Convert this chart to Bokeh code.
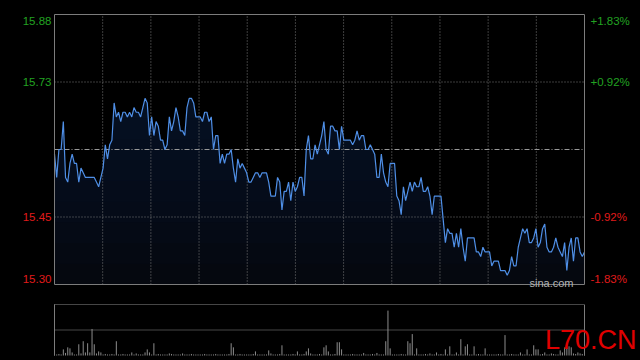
import numpy as np
from bokeh.plotting import figure
from bokeh.models import Range1d, Label
from bokeh.embed import file_html
from bokeh.resources import INLINE

# ---------------- data ----------------
prev_close = 15.59
price_low, price_high = 15.30, 15.88

price = [
    15.58, 15.53, 15.59, 15.59, 15.65, 15.53, 15.52, 15.56, 15.58, 15.56,
    15.56, 15.52, 15.55, 15.54, 15.53, 15.53, 15.53, 15.53, 15.53, 15.52,
    15.51, 15.53, 15.55, 15.60, 15.57, 15.60, 15.61, 15.69, 15.66, 15.67,
    15.65, 15.67, 15.67, 15.66, 15.67, 15.66, 15.68, 15.67, 15.67, 15.66,
    15.68, 15.70, 15.69, 15.62, 15.66, 15.62, 15.65, 15.64, 15.61, 15.61,
    15.59, 15.60, 15.66, 15.63, 15.65, 15.68, 15.66, 15.63, 15.63, 15.62,
    15.68, 15.70, 15.70, 15.69, 15.66, 15.66, 15.66, 15.65, 15.67, 15.67,
    15.65, 15.66, 15.59, 15.62, 15.62, 15.56, 15.58, 15.56, 15.58, 15.58,
    15.59, 15.55, 15.52, 15.57, 15.55, 15.56, 15.55, 15.54, 15.52, 15.52,
    15.53, 15.54, 15.54, 15.53, 15.54, 15.54, 15.54, 15.52, 15.49, 15.49,
    15.49, 15.53, 15.52, 15.46, 15.50, 15.50, 15.52, 15.48, 15.52, 15.50,
    15.51, 15.53, 15.53, 15.49, 15.59, 15.62, 15.57, 15.57, 15.60, 15.58,
    15.60, 15.62, 15.65, 15.59, 15.58, 15.64, 15.64, 15.63, 15.63, 15.59,
    15.64, 15.61, 15.61, 15.61, 15.61, 15.60, 15.61, 15.63, 15.61, 15.62,
    15.62, 15.59, 15.59, 15.60, 15.59, 15.58, 15.53, 15.53, 15.58, 15.54,
    15.52, 15.51, 15.56, 15.56, 15.56, 15.49, 15.48, 15.45, 15.51, 15.48,
    15.50, 15.52, 15.50, 15.52, 15.51, 15.51, 15.53, 15.50, 15.50, 15.51,
    15.49, 15.45, 15.49, 15.49, 15.49, 15.49, 15.44, 15.39, 15.42, 15.41,
    15.41, 15.38, 15.41, 15.38, 15.42, 15.38, 15.35, 15.40, 15.40, 15.40,
    15.40, 15.37, 15.37, 15.36, 15.38, 15.37, 15.37, 15.37, 15.34, 15.35,
    15.35, 15.35, 15.33, 15.33, 15.33, 15.32, 15.33, 15.36, 15.34, 15.34,
    15.38, 15.40, 15.42, 15.41, 15.42, 15.39, 15.39, 15.40, 15.42, 15.38,
    15.39, 15.42, 15.43, 15.38, 15.37, 15.37, 15.38, 15.40, 15.38, 15.37,
    15.36, 15.39, 15.33, 15.38, 15.40, 15.35, 15.40, 15.40, 15.37, 15.36,
    15.37,
]

volume = [
    300, 100, 150, 100, 600, 250, 800, 700, 300, 100,
    100, 1100, 200, 1400, 300, 1200, 300, 2600, 1100, 200,
    400, 300, 100, 150, 100, 100, 150, 100, 1400, 100,
    100, 150, 100, 100, 100, 300, 100, 200, 100, 100,
    100, 300, 600, 300, 100, 1200, 100, 150, 100, 100,
    100, 100, 200, 150, 100, 100, 100, 100, 200, 100,
    100, 100, 150, 100, 100, 100, 100, 100, 150, 100,
    100, 100, 100, 150, 100, 100, 100, 100, 100, 150,
    1200, 800, 100, 100, 150, 100, 100, 100, 100, 100,
    150, 400, 100, 100, 100, 100, 100, 500, 200, 100,
    100, 100, 150, 1000, 100, 100, 100, 100, 150, 100,
    400, 100, 100, 150, 400, 700, 200, 100, 100, 100,
    150, 100, 800, 1000, 400, 100, 100, 150, 1300, 1300,
    600, 100, 100, 100, 100, 150, 100, 100, 100, 100,
    250, 100, 100, 100, 150, 100, 250, 100, 100, 100,
    1400, 4400, 700, 100, 100, 100, 100, 150, 100, 100,
    1400, 1200, 2100, 100, 700, 100, 100, 100, 150, 100,
    200, 100, 100, 300, 100, 150, 100, 600, 100, 900,
    100, 100, 300, 100, 1600, 100, 900, 1100, 100, 100,
    900, 100, 150, 100, 100, 700, 100, 100, 100, 100,
    100, 150, 100, 100, 2000, 100, 100, 150, 100, 100,
    100, 300, 100, 100, 600, 100, 100, 1000, 600, 600,
    100, 150, 300, 100, 100, 200, 150, 100, 100, 500,
    300, 800, 700, 900, 800, 200, 150, 300, 200, 150,
    200,
]
volume_max = 5000

left_labels = ["15.88", "15.73", "15.45", "15.30"]
right_labels = ["+1.83%", "+0.92%", "-0.92%", "-1.83%"]
label_levels_idx = [4, 3, 1, 0]   # which horizontal grid level each label belongs to
n_vertical_div = 11

# ---------------- layout (pixels of the 640x360 canvas) ----------------
W, H = 640, 360
PX_L, PX_R = 54, 584          # panel left / right
PY_T, PY_B = 14, 284          # price panel top / bottom
VY_T, VY_B = 304, 355         # volume panel top / bottom

FONT = "Liberation Sans"
GREEN = "#22a322"
RED = "#e01b1b"
LINE_BLUE = "#4f8fe6"
GRID = "#7a7a7a"
BORDER = "#7c7c7c"

minutes = np.arange(len(price))
p_arr = np.array(price)
x_end = len(price) - 1
levels = [price_low + (price_high - price_low) * k / 4 for k in range(5)]

mpp = x_end / (PX_R - PX_L)
ppp = (price_high - price_low) / (PY_B - PY_T)
vpp = volume_max / (VY_B - VY_T)

p = figure(width=W, height=H, output_backend="svg", toolbar_location=None,
           x_axis_type=None, y_axis_type=None,
           x_range=Range1d(-PX_L * mpp, x_end + (W - PX_R) * mpp),
           y_range=Range1d(price_low - (H - PY_B) * ppp, price_high + PY_T * ppp),
           min_border=0, min_border_left=0, min_border_right=0,
           min_border_top=0, min_border_bottom=0,
           background_fill_color="#000000", border_fill_color="#000000",
           outline_line_color=None)
p.extra_y_ranges = {"vol": Range1d(-(H - VY_B) * vpp, volume_max + VY_T * vpp)}
p.grid.visible = False

# area fill with a vertical gradient approximation
p.varea(x=minutes, y1=price_low, y2=p_arr, fill_color="#05080f", fill_alpha=1.0)
for k in range(1, 10):
    lvl = price_low + (price_high - price_low) * k / 13
    p.varea(x=minutes, y1=lvl, y2=np.maximum(p_arr, lvl), fill_color="#1f3563", fill_alpha=0.045)

# grid
vx = [x_end * i / n_vertical_div for i in range(1, n_vertical_div)]
p.segment(x0=vx, y0=price_low, x1=vx, y1=price_high, line_color=GRID, line_width=1, line_dash="1 2")
for k in (1, 3):
    p.segment(x0=0, y0=levels[k], x1=x_end, y1=levels[k], line_color=GRID, line_width=1, line_dash="1 2")
p.segment(x0=0, y0=levels[2], x1=x_end, y1=levels[2], line_color="#9a9a9a", line_width=1, line_dash="5 2 1 2")

# price line
p.line(minutes, p_arr, line_color=LINE_BLUE, line_width=1.2)

# price panel border
p.segment(x0=[0, 0, 0, x_end], y0=[price_low, price_high, price_low, price_low],
          x1=[x_end, x_end, 0, x_end], y1=[price_low, price_high, price_high, price_high],
          line_color=BORDER, line_width=1)

# axis labels
offsets = {4: -6, 3: 0, 1: 0, 0: 6}
for txt, rtxt, k in zip(left_labels, right_labels, label_levels_idx):
    col = GREEN if levels[k] > prev_close else RED
    p.add_layout(Label(x=0, y=levels[k], x_offset=-3, y_offset=offsets[k], text=txt,
                       text_align="right", text_baseline="middle", text_color=col,
                       text_font=FONT, text_font_size="11.5px"))
    p.add_layout(Label(x=x_end, y=levels[k], x_offset=6, y_offset=offsets[k], text=rtxt,
                       text_align="left", text_baseline="middle", text_color=col,
                       text_font=FONT, text_font_size="11.5px"))

p.add_layout(Label(x=x_end, y=price_low, x_offset=-11, y_offset=2, text="sina.com",
                   text_align="right", text_baseline="alphabetic", text_color="#b4b4b4",
                   text_font=FONT, text_font_size="11px"))

# ---------------- volume ----------------
p.segment(x0=minutes, y0=0, x1=minutes, y1=volume, line_color="#8c8c8c", line_width=1,
          y_range_name="vol")
p.segment(x0=[0, x_end], y0=0, x1=[0, x_end], y1=volume_max, line_color=BORDER, line_width=1,
          y_range_name="vol")
p.segment(x0=0, y0=[volume_max, volume_max / 2], x1=x_end, y1=[volume_max, volume_max / 2],
          line_color="#8c8c8c", line_width=1, line_dash="1 1", y_range_name="vol")

p.add_layout(Label(x=x_end, y=0, x_offset=52, y_offset=16, text="L70.CN", y_range_name="vol",
                   text_align="right", text_baseline="alphabetic", text_color="#e00000",
                   text_font=FONT, text_font_size="27px"))

html = file_html(p, INLINE, title="chart")
html = html.replace("</head>", "<style>html,body{background:#000000;margin:0;padding:0;}</style></head>", 1)
open("out.html", "w").write(html)
